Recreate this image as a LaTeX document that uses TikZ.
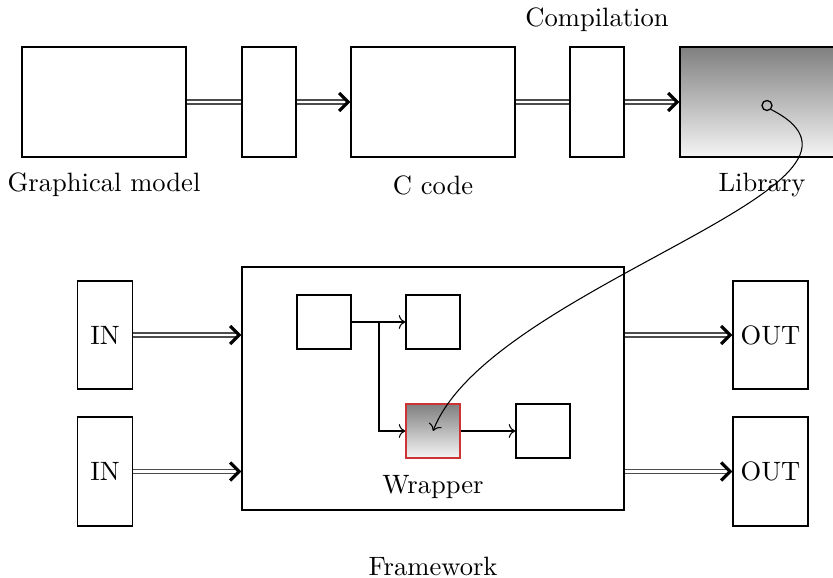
\documentclass[tikz,border=0pt]{standalone}
\usetikzlibrary{arrows.meta}
\newlength\pxl
\setlength\pxl{0.3766pt}
\begin{document}
\begin{tikzpicture}[x=\pxl,y=-\pxl,
  box/.style={draw,line width=0.5pt,inner sep=0pt,minimum width=#1},
  boxh/.style={minimum height=#1},
  lbl/.style={inner sep=0pt,font=\normalsize},
  dbl/.style={draw=black!70,line width=0.45pt,double=white,double distance=1.1pt},
  dblarr/.style={dbl,-{Straight Barb[length=3.4pt,width=6.8pt,line width=1.2pt,black]}},
  thinarr/.style={line width=0.4pt,->},
  grad/.style={top color=black!50,bottom color=black!4}
]
\useasboundingbox (0,0) rectangle (833,578);
% top row
\node[box=164\pxl,boxh=110\pxl] (gm) at (104,102) {};
\node[box=54\pxl,boxh=110\pxl] (s1) at (269,102) {};
\node[box=164\pxl,boxh=110\pxl] (cc) at (433,102) {};
\node[box=54\pxl,boxh=110\pxl] (s2) at (597,102) {};
\node[box=164\pxl,boxh=110\pxl,grad] (lib) at (762,102) {};
\node[lbl] (lgm) at (104,185) {Graphical model};
\node[lbl] (lcc) at (433,185) {C code};
\node[lbl] (llib) at (762,185) {Library};
\node[lbl] (lcomp) at (597,20) {Compilation};
\draw[dbl] (gm.east) -- (s1.west);
\draw[dblarr] (s1.east) -- (cc.west);
\draw[dbl] (cc.east) -- (s2.west);
\draw[dblarr] (s2.east) -- (lib.west);
% bottom
\node[box=382\pxl,boxh=243\pxl] (fw) at (433,388.5) {};
\node[lbl] (lfw) at (433,566) {Framework};
\node[box=54.6\pxl,boxh=108\pxl] (in1) at (105,335) {IN};
\node[box=54.6\pxl,boxh=109\pxl] (in2) at (105,471.5) {IN};
\node[box=75\pxl,boxh=108\pxl] (out1) at (770.5,335) {OUT};
\node[box=75\pxl,boxh=109\pxl] (out2) at (770.5,471.5) {OUT};
\draw[dblarr] (in1.east) -- (in1.east -| fw.west);
\draw[dblarr] (in2.east) -- (in2.east -| fw.west);
\draw[dblarr] (out1.west -| fw.east) -- (out1.west);
\draw[dblarr] (out2.west -| fw.east) -- (out2.west);
\node[box=54\pxl,boxh=54\pxl] (b1) at (324,322) {};
\node[box=54\pxl,boxh=54\pxl] (b2) at (433,322) {};
\node[box=54\pxl,boxh=54\pxl,grad,draw=red!75!black!80] (wr) at (433,431) {};
\node[box=54\pxl,boxh=54\pxl] (b4) at (543,431) {};
\node[lbl] (lwr) at (433,487) {Wrapper};
\coordinate (br) at (379,322);
\draw[thinarr] (b1.east) -- (b2.west);
\draw[thinarr] (br) |- (wr.west);
\draw[thinarr] (wr.east) -- (b4.west);
% library link
\node[draw,circle,line width=0.5pt,inner sep=0pt,minimum size=10\pxl] (dot) at (767,105.5) {};
\draw[thinarr] (dot.south east) .. controls (920,185) and (490,285) .. (wr.center);
\end{tikzpicture}
\end{document}
